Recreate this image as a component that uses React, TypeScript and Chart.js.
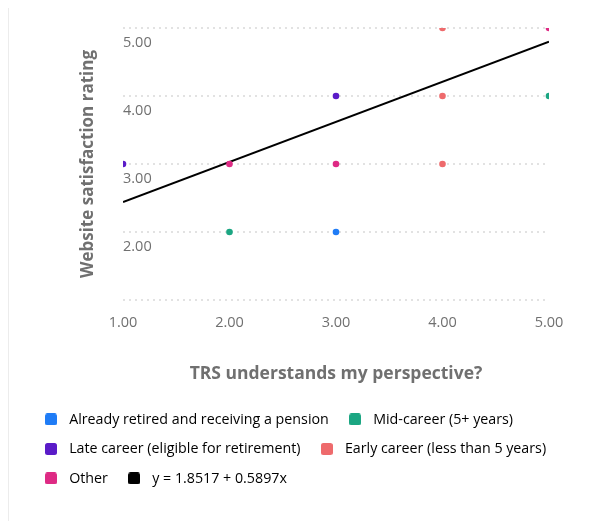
import React, { useEffect, useRef } from "react";
import { Chart, registerables } from "chart.js";

Chart.register(...registerables);

const seriesNames = [
  "Already retired and receiving a pension",
  "Mid-career (5+ years)",
  "Late career (eligible for retirement)",
  "Early career (less than 5 years)",
  "Other",
];
const seriesColors = ["#1f7cf6", "#1ba682", "#5a1bc8", "#ee6a6c", "#de2a84"];

const alreadyRetired = [{ x: 3, y: 2 }];
const midCareer = [
  { x: 2, y: 2 },
  { x: 5, y: 4 },
];
const lateCareer = [
  { x: 1, y: 3 },
  { x: 3, y: 4 },
];
const earlyCareer = [
  { x: 4, y: 3 },
  { x: 4, y: 4 },
  { x: 4, y: 5 },
];
const other = [
  { x: 2, y: 3 },
  { x: 3, y: 3 },
  { x: 5, y: 5 },
];

const trendLabel = "y = 1.8517 + 0.5897x";
const trendColor = "#000000";
const trendPoints = [
  { x: 1, y: 2.4414 },
  { x: 5, y: 4.8002 },
];

const xTitle = "TRS understands my perspective?";
const yTitle = "Website satisfaction rating";
const axisMin = 1;
const axisMax = 5;

const FONT = "'Open Sans', 'Noto Sans', sans-serif";

function makeBox(color: string): HTMLCanvasElement {
  const c = document.createElement("canvas");
  c.width = 12;
  c.height = 12;
  const g = c.getContext("2d")!;
  const r = 2.5;
  g.fillStyle = color;
  g.beginPath();
  g.moveTo(r, 0);
  g.lineTo(12 - r, 0);
  g.arcTo(12, 0, 12, r, r);
  g.lineTo(12, 12 - r);
  g.arcTo(12, 12, 12 - r, 12, r);
  g.lineTo(r, 12);
  g.arcTo(0, 12, 0, 12 - r, r);
  g.lineTo(0, r);
  g.arcTo(0, 0, r, 0, r);
  g.closePath();
  g.fill();
  return c;
}

export default function App() {
  const ref = useRef<HTMLCanvasElement | null>(null);

  useEffect(() => {
    if (!ref.current) return;
    const seriesData = [alreadyRetired, midCareer, lateCareer, earlyCareer, other];
    const datasets: any[] = seriesData.map((d, i) => ({
      label: seriesNames[i],
      data: d,
      backgroundColor: seriesColors[i],
      borderColor: seriesColors[i],
      pointRadius: 3.3,
      pointHoverRadius: 3.3,
      borderWidth: 0,
      clip: 0,
    }));
    datasets.push({
      label: trendLabel,
      data: trendPoints,
      showLine: true,
      borderColor: trendColor,
      backgroundColor: trendColor,
      borderWidth: 2,
      pointRadius: 0,
      clip: 0,
    });

    const chart = new Chart(ref.current, {
      type: "scatter",
      data: { datasets },
      options: {
        animation: false,
        responsive: true,
        maintainAspectRatio: false,
        layout: { padding: { left: 15.75, right: 8, top: 20, bottom: 25.4 } },
        font: { family: FONT },
        plugins: {
          tooltip: { enabled: false },
          legend: {
            position: "bottom",
            align: "start",
            labels: {
              usePointStyle: true,
              pointStyleWidth: 22,
              boxHeight: 12,
              padding: 15.25,
              color: "#1f1f1f",
              font: { family: FONT, size: 14.25 },
              generateLabels: (c: any) =>
                c.data.datasets.map((ds: any, i: number) => ({
                  text: ds.label,
                  fillStyle: ds.backgroundColor,
                  strokeStyle: ds.backgroundColor,
                  lineWidth: 0,
                  hidden: false,
                  datasetIndex: i,
                  pointStyle: makeBox(ds.backgroundColor),
                })),
            } as any,
          },
        },
        scales: {
          x: {
            type: "linear",
            min: axisMin,
            max: axisMax,
            afterFit: (s: any) => {
              s.height = 97.1;
            },
            grid: { display: false, drawTicks: false },
            border: { display: false },
            ticks: {
              stepSize: 1,
              padding: 14,
              color: "#707070",
              font: { family: FONT, size: 14.5 },
              callback: (v: any) => Number(v).toFixed(2),
            },
            title: {
              display: true,
              text: xTitle,
              color: "#707070",
              font: { family: FONT, size: 17.5, weight: "bold" },
              padding: { top: 0, bottom: 12.3 },
            },
          },
          y: {
            type: "linear",
            min: axisMin,
            max: axisMax,
            afterFit: (s: any) => {
              s.width = 98.25;
            },
            grid: { color: "#e2e2e2", lineWidth: 2, drawTicks: false },
            border: { display: false, dash: [2, 4] },
            ticks: {
              stepSize: 1,
              mirror: true,
              padding: 0,
              labelOffset: 15,
              color: "#707070",
              font: { family: FONT, size: 14.5 },
              callback: (v: any) => (Number(v) === axisMin ? "" : Number(v).toFixed(2)),
            },
            title: {
              display: true,
              text: yTitle,
              color: "#707070",
              font: { family: FONT, size: 17, weight: "bold" },
              padding: { top: 53, bottom: 0 },
            },
          },
          yRight: {
            type: "linear",
            position: "right",
            display: true,
            min: 0,
            max: 1,
            afterFit: (s: any) => {
              s.width = 48;
            },
            grid: { display: false, drawTicks: false },
            border: { display: false },
            ticks: { display: false },
            title: { display: false },
          },
        },
      } as any,
    });
    return () => chart.destroy();
  }, []);

  return (
    <div
      style={{
        width: 597,
        height: 513,
        borderLeft: "1px solid #ececec",
        boxSizing: "border-box",
        position: "relative",
      }}
    >
      <canvas ref={ref} />
    </div>
  );
}
